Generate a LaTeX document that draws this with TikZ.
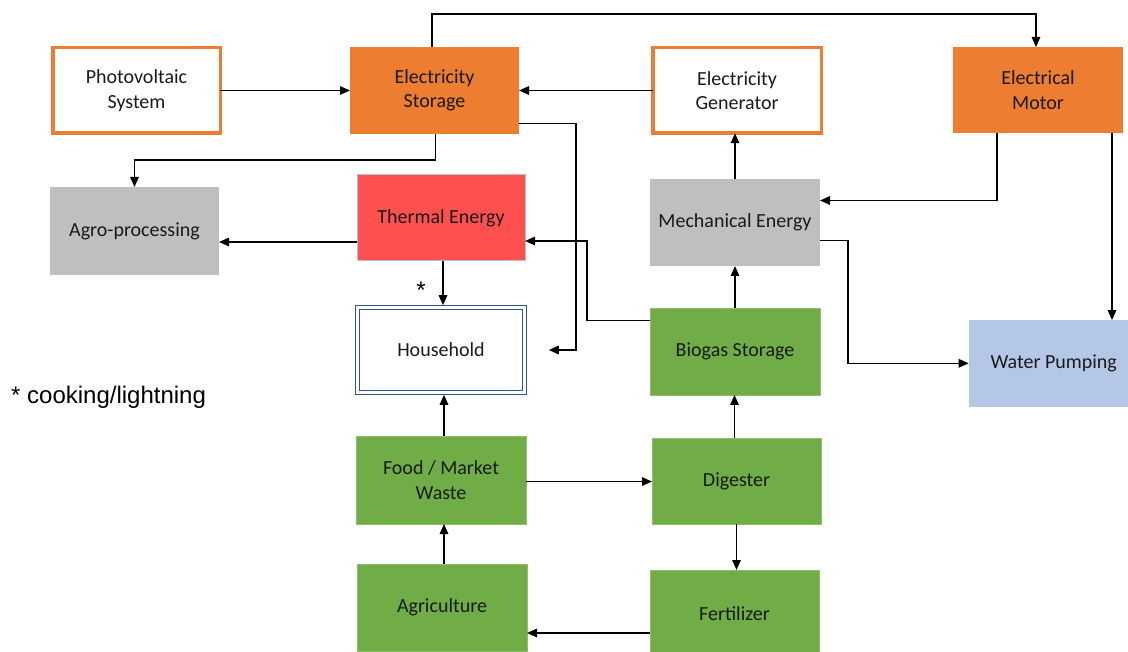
\documentclass[tikz,border=0pt]{standalone}
\usepackage{fontspec}
\setmainfont{Carlito}
\newfontfamily\arialfont{Liberation Sans}
\usetikzlibrary{arrows.meta,calc}
\definecolor{orng}{HTML}{ED7D31}
\definecolor{gry}{HTML}{BFBFBF}
\definecolor{redf}{HTML}{FF5050}
\definecolor{grn}{HTML}{70AD47}
\definecolor{grnb}{HTML}{8CC168}
\definecolor{lblue}{HTML}{B4C7E7}
\definecolor{hblue}{HTML}{2F5597}
\definecolor{txt}{HTML}{1A1A1A}
\tikzset{
  box/.style={inner sep=0pt, outer sep=0pt, align=center, text=txt,
    font=\fontsize{20}{24.5}\selectfont},
  obox/.style={box, draw=orng, line width=3.5pt, fill=white},
  ofill/.style={box, fill=orng},
  gbox/.style={box, fill=gry},
  gnbox/.style={box, fill=grn, draw=grnb, line width=0.8pt},
  arr/.style={draw=black, line width=1.5pt, -{Triangle[length=10pt,width=8.5pt]}},
}
\begin{document}
\begin{tikzpicture}[x=1pt,y=-1pt]
\useasboundingbox (0,0) rectangle (1128,652);
\clip (0,0) rectangle (1128,652);
% nodes
\node[obox, minimum width=167.5pt, minimum height=85.5pt] (pv) at (136.5,90.5) {Photovoltaic\\System};
\node[ofill, minimum width=169pt, minimum height=87pt] (stor) at (434.5,90.5) {Electricity\\Storage};
\node[obox, minimum width=168.5pt, minimum height=85.5pt] (gen) at (737,90.5) {Electricity\\Generator};
\node[ofill, minimum width=170pt, minimum height=86pt] (motor) at (1038,90) {Electrical\\Motor};
\node[gbox, minimum width=169pt, minimum height=88pt] (agro) at (134.5,231) {Agro-processing};
\node[box, fill=redf, draw=gry, line width=1pt, minimum width=168pt, minimum height=86pt] (therm) at (441,218) {Thermal Energy};
\node[gbox, minimum width=170pt, minimum height=87pt] (mech) at (735,222.5) {Mechanical Energy};
\node[box, draw=hblue, double=white, double distance=2.2pt, line width=1.2pt, outer sep=2.3pt,
      minimum width=167pt, minimum height=85pt] (house) at (441,350) {Household};
\node[gnbox, minimum width=170pt, minimum height=86.5pt] (bio) at (735,351.7) {Biogas Storage};
\node[box, fill=lblue, minimum width=170pt, minimum height=86.5pt] (water) at (1053.7,363.3) {Water Pumping};
\node[gnbox, minimum width=170pt, minimum height=88pt] (food) at (441,480) {Food / Market\\Waste};
\node[gnbox, minimum width=169pt, minimum height=86pt] (dig) at (736.5,481) {Digester};
\node[gnbox, minimum width=170pt, minimum height=87pt] (agri) at (442,607.5) {Agriculture};
\node[gnbox, minimum width=169pt, minimum height=87pt] (fert) at (734.5,613.5) {Fertilizer};
\node[anchor=base west, inner sep=0pt, font=\arialfont\fontsize{24}{28}\selectfont] (legend) at (11,403) {* cooking/lightning};
\node[inner sep=0pt, font=\arialfont\fontsize{24}{28}\selectfont] (star) at (421,290) {*};
\coordinate (top) at (0,14);
% connectors
\draw[arr] (pv.east) -- (pv.east -| stor.west);
\draw[arr] (gen.west) -- (gen.west -| stor.east);
\draw[arr] ([xshift=-2.5pt]stor.north) coordinate (s1) -- (s1 |- top) -| ([xshift=-2pt]motor.north);
\draw[arr] ([xshift=1pt]stor.south) -- ++(0,26) -| (agro.north);
\draw[arr] ([yshift=10.5pt]stor.south east) -- ++(57,0) |- ([xshift=22pt]house.east);
\draw[arr] (mech.north) -- (mech.north |- gen.south);
\draw[arr] ([xshift=-41pt]motor.south) |- ([yshift=22pt]mech.east);
\draw[arr] ([xshift=74pt]motor.south) coordinate (m2) -- (m2 |- water.north);
\draw[arr] ([yshift=-18pt]mech.east) -- ++(28,0) |- (water.west);
\draw[arr] ([yshift=31pt]bio.west) -- ++(-63,0) |- ([yshift=-23pt]therm.east);
\draw[arr] (bio.north) -- (mech.south);
\draw[arr] ([xshift=-2pt]dig.north) coordinate (d1) -- (d1 |- bio.south);
\draw[arr] ([yshift=-1.5pt]food.east) coordinate (f1) -- (f1 -| dig.west);
\draw[arr] (dig.south) -- (dig.south |- fert.north);
\draw[arr] ([yshift=-19.5pt]fert.west) coordinate (f2) -- (f2 -| agri.east);
\draw[arr] ([xshift=2pt]agri.north) coordinate (a1) -- (a1 |- food.south);
\draw[arr] ([xshift=3pt]food.north) coordinate (f3) -- (f3 |- house.south);
\draw[arr] ([xshift=2pt]therm.south) coordinate (t1) -- (t1 |- house.north);
\draw[arr] ([yshift=-24pt]therm.west) coordinate (t2) -- (t2 -| agro.east);
\end{tikzpicture}
\end{document}
